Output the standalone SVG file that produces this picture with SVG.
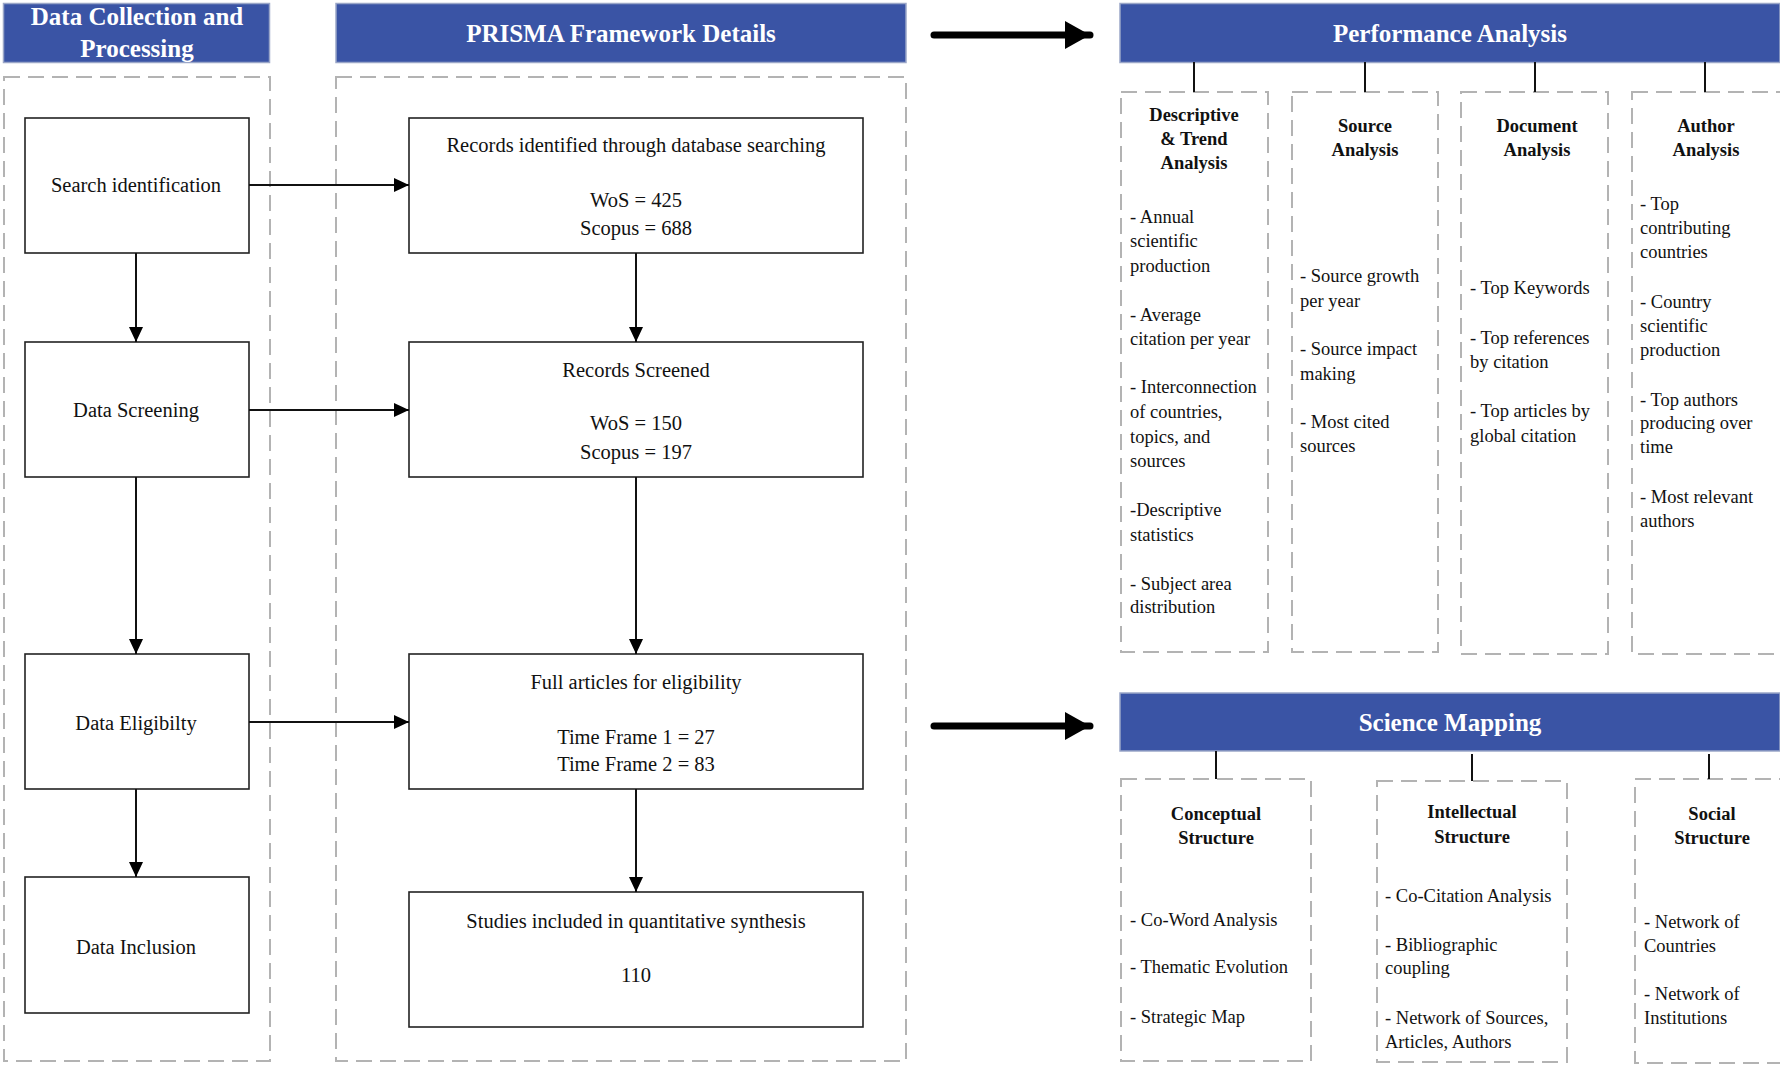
<svg xmlns="http://www.w3.org/2000/svg" width="1780" height="1065" viewBox="0 0 1780 1065">
<defs>
<style>
.hdr{fill:#3a54a5;stroke:#9aa6c8;stroke-width:1.5}
.hdrt{font-family:"Liberation Serif","Times New Roman",serif;font-weight:bold;font-size:25px;fill:#fff;text-anchor:middle}
.dash{fill:none;stroke:#b3b3b3;stroke-width:2;stroke-dasharray:16 8}
.box{fill:#fff;stroke:#222;stroke-width:1.6}
.bt{font-family:"Liberation Serif","Times New Roman",serif;font-size:20.5px;fill:#111;text-anchor:middle}
.ch{font-family:"Liberation Serif","Times New Roman",serif;font-weight:bold;font-size:18.5px;fill:#111;text-anchor:middle}
.ct{font-family:"Liberation Serif","Times New Roman",serif;font-size:18.5px;fill:#111}
.ln{stroke:#111;stroke-width:2;fill:none}
.big{stroke:#000;stroke-width:7;stroke-linecap:round;fill:none}
</style>
<marker id="ah" markerUnits="userSpaceOnUse" markerWidth="16" markerHeight="14" refX="15" refY="7" orient="auto">
<path d="M0,0 L15,7 L0,14 Z" fill="#000"/>
</marker>
<marker id="bh" markerUnits="userSpaceOnUse" markerWidth="26" markerHeight="28" refX="25" refY="14" orient="auto">
<path d="M0,0 L25,14 L0,28 Z" fill="#000"/>
</marker>
</defs>
<rect width="1780" height="1065" fill="#fff"/>

<g id="header-data-collection">
<rect class="hdr" x="3.5" y="3.5" width="266" height="59"/>
<text class="hdrt" x="137" y="25">Data Collection and</text>
<text class="hdrt" x="137" y="57">Processing</text>
</g>
<g id="header-prisma">
<rect class="hdr" x="336" y="3.5" width="570" height="59"/>
<text class="hdrt" x="621" y="42">PRISMA Framework Details</text>
</g>
<g id="container-left"><rect class="dash" x="4" y="77" width="266" height="984"/></g>
<g id="container-prisma"><rect class="dash" x="336" y="77" width="570" height="984"/></g>

<g id="search-identification">
<rect class="box" x="25" y="118" width="224" height="135"/>
<text class="bt" x="136" y="192">Search identification</text>
</g>
<g id="data-screening">
<rect class="box" x="25" y="342" width="224" height="135"/>
<text class="bt" x="136" y="417">Data Screening</text>
</g>
<g id="data-eligibility">
<rect class="box" x="25" y="654" width="224" height="135"/>
<text class="bt" x="136" y="730">Data Eligibilty</text>
</g>
<g id="data-inclusion">
<rect class="box" x="25" y="877" width="224" height="136"/>
<text class="bt" x="136" y="954">Data Inclusion</text>
</g>

<g id="records-identified">
<rect class="box" x="409" y="118" width="454" height="135"/>
<text class="bt" x="636" y="152">Records identified through database searching</text>
<text class="bt" x="636" y="207">WoS = 425</text>
<text class="bt" x="636" y="235">Scopus = 688</text>
</g>
<g id="records-screened">
<rect class="box" x="409" y="342" width="454" height="135"/>
<text class="bt" x="636" y="377">Records Screened</text>
<text class="bt" x="636" y="430">WoS = 150</text>
<text class="bt" x="636" y="459">Scopus = 197</text>
</g>
<g id="full-articles">
<rect class="box" x="409" y="654" width="454" height="135"/>
<text class="bt" x="636" y="689">Full articles for eligibility</text>
<text class="bt" x="636" y="744">Time Frame 1 = 27</text>
<text class="bt" x="636" y="771">Time Frame 2 = 83</text>
</g>
<g id="studies-included">
<rect class="box" x="409" y="892" width="454" height="135"/>
<text class="bt" x="636" y="928">Studies included in quantitative synthesis</text>
<text class="bt" x="636" y="982">110</text>
</g>

<g id="header-performance">
<rect class="hdr" x="1120" y="3.5" width="660" height="59"/>
<text class="hdrt" x="1450" y="42">Performance Analysis</text>
</g>
<g id="descriptive-trend">
<rect class="dash" x="1121" y="92" width="147" height="560"/>
<text class="ch" x="1194" y="121">Descriptive</text>
<text class="ch" x="1194" y="145">&amp; Trend</text>
<text class="ch" x="1194" y="169">Analysis</text>
<text class="ct" x="1130" y="223">- Annual</text>
<text class="ct" x="1130" y="247">scientific</text>
<text class="ct" x="1130" y="272">production</text>
<text class="ct" x="1130" y="321">- Average</text>
<text class="ct" x="1130" y="345">citation per year</text>
<text class="ct" x="1130" y="393">- Interconnection</text>
<text class="ct" x="1130" y="418">of countries,</text>
<text class="ct" x="1130" y="443">topics, and</text>
<text class="ct" x="1130" y="467">sources</text>
<text class="ct" x="1130" y="516">-Descriptive</text>
<text class="ct" x="1130" y="541">statistics</text>
<text class="ct" x="1130" y="590">- Subject area</text>
<text class="ct" x="1130" y="613">distribution</text>
</g>
<g id="source-analysis">
<rect class="dash" x="1292" y="92" width="146" height="560"/>
<text class="ch" x="1365" y="132">Source</text>
<text class="ch" x="1365" y="156">Analysis</text>
<text class="ct" x="1300" y="282">- Source growth</text>
<text class="ct" x="1300" y="307">per year</text>
<text class="ct" x="1300" y="355">- Source impact</text>
<text class="ct" x="1300" y="380">making</text>
<text class="ct" x="1300" y="428">- Most cited</text>
<text class="ct" x="1300" y="452">sources</text>
</g>
<g id="document-analysis">
<rect class="dash" x="1461" y="92" width="147" height="562"/>
<text class="ch" x="1537" y="132">Document</text>
<text class="ch" x="1537" y="156">Analysis</text>
<text class="ct" x="1470" y="294">- Top Keywords</text>
<text class="ct" x="1470" y="344">- Top references</text>
<text class="ct" x="1470" y="368">by citation</text>
<text class="ct" x="1470" y="417">- Top articles by</text>
<text class="ct" x="1470" y="442">global citation</text>
</g>
<g id="author-analysis">
<rect class="dash" x="1632" y="92" width="150" height="562"/>
<text class="ch" x="1706" y="132">Author</text>
<text class="ch" x="1706" y="156">Analysis</text>
<text class="ct" x="1640" y="210">- Top</text>
<text class="ct" x="1640" y="234">contributing</text>
<text class="ct" x="1640" y="258">countries</text>
<text class="ct" x="1640" y="308">- Country</text>
<text class="ct" x="1640" y="332">scientific</text>
<text class="ct" x="1640" y="356">production</text>
<text class="ct" x="1640" y="406">- Top authors</text>
<text class="ct" x="1640" y="429">producing over</text>
<text class="ct" x="1640" y="453">time</text>
<text class="ct" x="1640" y="503">- Most relevant</text>
<text class="ct" x="1640" y="527">authors</text>
</g>

<g id="header-science">
<rect class="hdr" x="1120" y="693" width="660" height="58"/>
<text class="hdrt" x="1450" y="731">Science Mapping</text>
</g>
<g id="conceptual-structure">
<rect class="dash" x="1121" y="779" width="190" height="282"/>
<text class="ch" x="1216" y="820">Conceptual</text>
<text class="ch" x="1216" y="844">Structure</text>
<text class="ct" x="1130" y="926">- Co-Word Analysis</text>
<text class="ct" x="1130" y="973">- Thematic Evolution</text>
<text class="ct" x="1130" y="1023">- Strategic Map</text>
</g>
<g id="intellectual-structure">
<rect class="dash" x="1377" y="781" width="190" height="281"/>
<text class="ch" x="1472" y="818">Intellectual</text>
<text class="ch" x="1472" y="843">Structure</text>
<text class="ct" x="1385" y="902">- Co-Citation Analysis</text>
<text class="ct" x="1385" y="951">- Bibliographic</text>
<text class="ct" x="1385" y="974">coupling</text>
<text class="ct" x="1385" y="1024">- Network of Sources,</text>
<text class="ct" x="1385" y="1048">Articles, Authors</text>
</g>
<g id="social-structure">
<rect class="dash" x="1635" y="779" width="148" height="284"/>
<text class="ch" x="1712" y="820">Social</text>
<text class="ch" x="1712" y="844">Structure</text>
<text class="ct" x="1644" y="928">- Network of</text>
<text class="ct" x="1644" y="952">Countries</text>
<text class="ct" x="1644" y="1000">- Network of</text>
<text class="ct" x="1644" y="1024">Institutions</text>
</g>

<g id="connectors">
<line class="ln" x1="249" y1="185" x2="409" y2="185" marker-end="url(#ah)"/>
<line class="ln" x1="249" y1="410" x2="409" y2="410" marker-end="url(#ah)"/>
<line class="ln" x1="249" y1="722" x2="409" y2="722" marker-end="url(#ah)"/>
<line class="ln" x1="136" y1="253" x2="136" y2="342" marker-end="url(#ah)"/>
<line class="ln" x1="136" y1="477" x2="136" y2="654" marker-end="url(#ah)"/>
<line class="ln" x1="136" y1="789" x2="136" y2="877" marker-end="url(#ah)"/>
<line class="ln" x1="636" y1="253" x2="636" y2="342" marker-end="url(#ah)"/>
<line class="ln" x1="636" y1="477" x2="636" y2="654" marker-end="url(#ah)"/>
<line class="ln" x1="636" y1="789" x2="636" y2="892" marker-end="url(#ah)"/>
<line class="big" x1="934" y1="35" x2="1090" y2="35" marker-end="url(#bh)"/>
<line class="big" x1="934" y1="726" x2="1090" y2="726" marker-end="url(#bh)"/>
<line class="ln" x1="1194" y1="62" x2="1194" y2="92"/>
<line class="ln" x1="1365" y1="62" x2="1365" y2="92"/>
<line class="ln" x1="1535" y1="62" x2="1535" y2="92"/>
<line class="ln" x1="1705" y1="62" x2="1705" y2="92"/>
<line class="ln" x1="1216" y1="751" x2="1216" y2="779"/>
<line class="ln" x1="1472" y1="754" x2="1472" y2="781"/>
<line class="ln" x1="1709" y1="754" x2="1709" y2="779"/>
</g>
</svg>
